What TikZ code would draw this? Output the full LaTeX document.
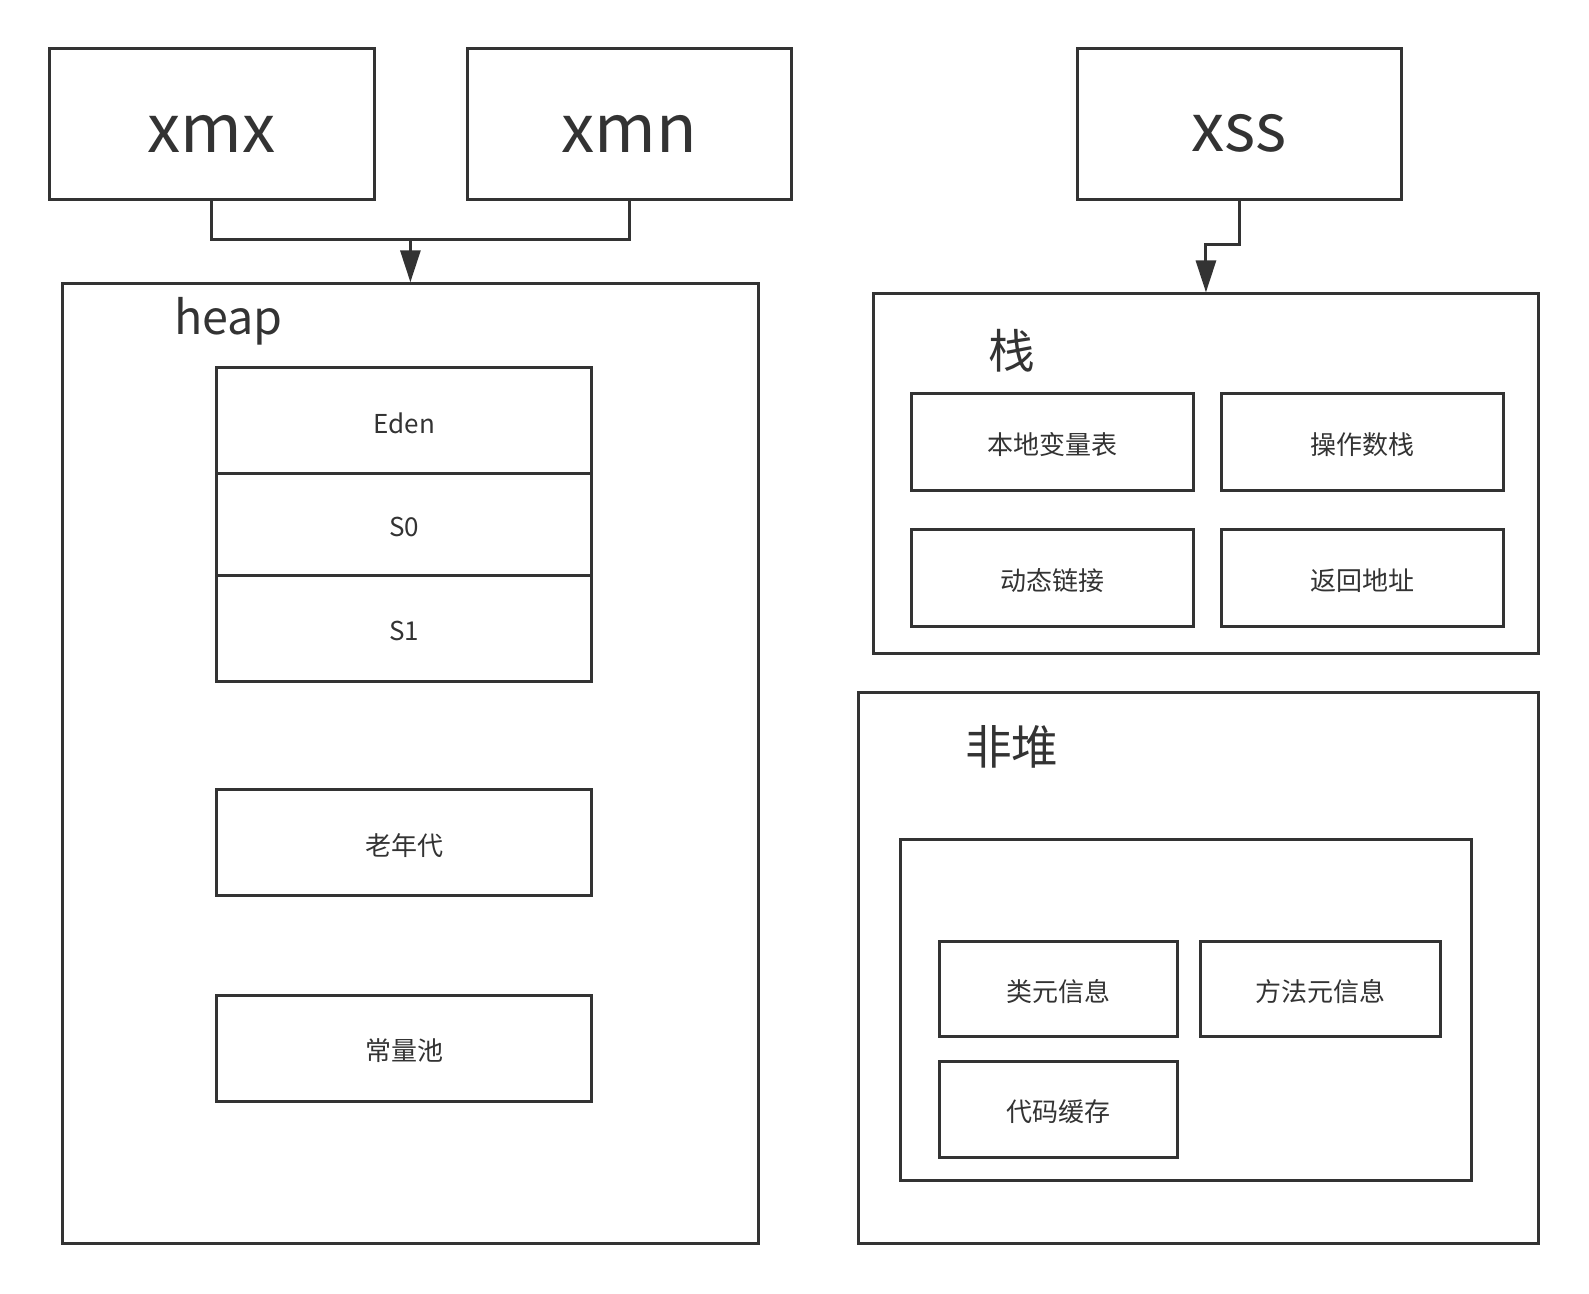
\documentclass[tikz,border=0pt]{standalone}
\usepackage{fontspec}
\setmainfont{Noto Sans CJK SC}
\usetikzlibrary{arrows.meta}
\definecolor{lc}{HTML}{333333}
\tikzset{
  box/.style={draw=lc, line width=2.25pt, anchor=north west, inner sep=0pt},
  smalltxt/.style={text=lc, inner sep=0pt, yshift=-2pt, font=\fontsize{19.5}{22}\selectfont},
  bigtxt/.style={text=lc, inner sep=0pt, yshift=-7pt, font=\fontsize{50}{58}\selectfont},
  title/.style={text=lc, inner sep=0pt, font=\fontsize{35}{40}\selectfont},
  conn/.style={draw=lc, line width=2.25pt},
  arr/.style={conn, -{Triangle[length=24pt,width=15pt]}}
}
\newcommand{\bx}[7][smalltxt]{%
  \node[box, minimum width={(#5-#3)*0.75pt}, minimum height={(#6-#4)*0.75pt}] (#2) at (#3,#4) {};
  \node[#1] (#2t) at (#2.center) {#7};}
\begin{document}
\begin{tikzpicture}[x=0.75pt,y=-0.75pt]
\useasboundingbox (0,0) rectangle (1589,1293);
\begin{scope}[shift={(-1.5,-1.5)}]
% top parameter boxes
\bx[bigtxt]{xmx}{49.7}{48.6}{374}{199.6}{xmx}
\bx[bigtxt]{xmn}{467.2}{48.6}{791.5}{199.6}{xmn}
\bx[bigtxt]{xss}{1077.2}{48.6}{1401.5}{199.6}{xss}
% heap
\bx{heap}{62.8}{283.8}{758}{1243.8}{}
\node[title] (heaplbl) at (230,323) {heap};
\bx{eden}{216.9}{367.9}{591.8}{473.3}{Eden}
\bx{s0}{216.9}{473.3}{591.8}{575.6}{S0}
\bx{s1}{216.9}{575.6}{591.8}{681}{S1}
\bx{old}{216.9}{789.4}{591.8}{895.8}{老年代}
\bx{pool}{216.9}{995.2}{591.8}{1101.6}{常量池}
% stack
\bx{stk}{873.6}{293.9}{1538.3}{653.6}{}
\node[title] (stklbl) at (1013.4,352) {栈};
\bx{lvt}{911}{393.2}{1193.8}{490.5}{本地变量表}
\bx{ops}{1221.5}{393.2}{1503.9}{490.5}{操作数栈}
\bx{dyn}{911}{529}{1193.8}{626.3}{动态链接}
\bx{ret}{1221.5}{529}{1503.9}{626.3}{返回地址}
% non-heap
\bx{nh}{858.3}{692.2}{1538.3}{1243.8}{}
\node[title] (nhlbl) at (1013.4,748) {非堆};
\bx{meta}{900.9}{839.1}{1471.5}{1180.8}{}
\bx{cls}{939.4}{941.5}{1177.6}{1036.7}{类元信息}
\bx{mth}{1200.9}{941.5}{1440}{1036.7}{方法元信息}
\bx{code}{939.4}{1061.3}{1177.6}{1157.3}{代码缓存}
% connectors
\coordinate (j) at (heap.north |- 0,241.2);
\draw[conn] (xmx.south) |- (j) -| (xmn.south);
\draw[arr] (j) -- (heap.north);
\coordinate (k) at (xss.south |- 0,246.3);
\draw[arr] (xss.south) -- (k) -| (stk.north);
\end{scope}
\end{tikzpicture}
\end{document}
